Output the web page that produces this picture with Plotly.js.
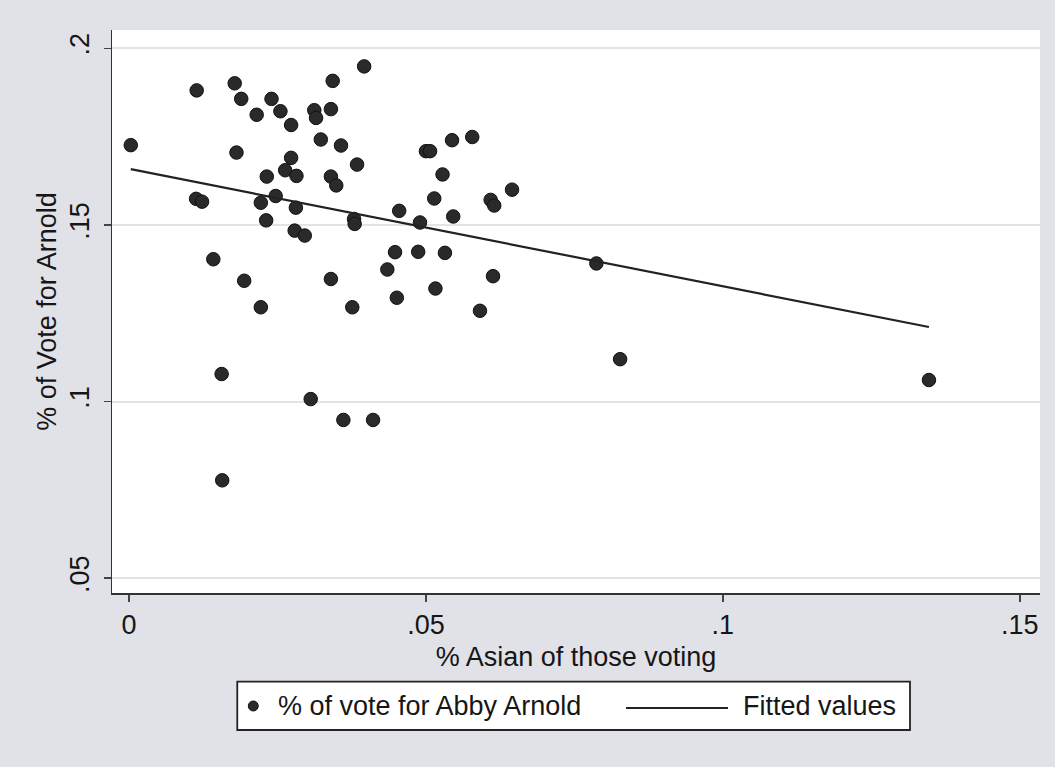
<!DOCTYPE html>
<html>
<head>
<meta charset="utf-8">
<script src="https://cdn.plot.ly/plotly-3.0.1.min.js"></script>
<style>
  html, body { margin: 0; padding: 0; background: #e1e1e8; }
  #chart { width: 1055px; height: 767px; }
</style>
</head>
<body>
<div id="chart"></div>
<script>
// % Asian of those voting (x) for each precinct
const asianShare = [
  0.0003, 0.0114, 0.0113, 0.0123, 0.0142, 0.0156, 0.0157, 0.0178, 0.0189, 0.0181,
  0.0194, 0.0215, 0.0222, 0.0222, 0.0231, 0.0232, 0.0240, 0.0247, 0.0255, 0.0263,
  0.0273, 0.0273, 0.0282, 0.0281, 0.0279, 0.0296, 0.0306, 0.0312, 0.0315, 0.0323,
  0.0340, 0.0343, 0.0340, 0.0349, 0.0340, 0.0357, 0.0361, 0.0376, 0.0379, 0.0380,
  0.0384, 0.0396, 0.0411, 0.0435, 0.0451, 0.0448, 0.0455, 0.0487, 0.0490, 0.0500,
  0.0507, 0.0516, 0.0514, 0.0528, 0.0532, 0.0544, 0.0546, 0.0578, 0.0591, 0.0609,
  0.0615, 0.0613, 0.0645, 0.0787, 0.0827, 0.1347
];
// % of vote for Abby Arnold (y)
const arnoldShare = [
  0.1726, 0.1881, 0.1574, 0.1566, 0.1403, 0.1078, 0.0777, 0.1901, 0.1857, 0.1705,
  0.1342, 0.1812, 0.1267, 0.1563, 0.1513, 0.1637, 0.1857, 0.1582, 0.1822, 0.1655,
  0.1690, 0.1783, 0.1639, 0.1549, 0.1484, 0.1470, 0.1007, 0.1825, 0.1803, 0.1742,
  0.1828, 0.1908, 0.1637, 0.1612, 0.1347, 0.1725, 0.0948, 0.1267, 0.1517, 0.1503,
  0.1671, 0.1949, 0.0948, 0.1374, 0.1294, 0.1423, 0.1540, 0.1424, 0.1507, 0.1709,
  0.1709, 0.1320, 0.1575, 0.1643, 0.1421, 0.1740, 0.1524, 0.1749, 0.1257, 0.1571,
  0.1555, 0.1355, 0.1600, 0.1391, 0.1120, 0.1061
];
// Fitted values line (endpoints)
const fittedX = [0.0003, 0.1347];
const fittedY = [0.1658, 0.1211];

const xTickVals = [0, 0.05, 0.1, 0.15];
const xTickText = ['0', '.05', '.1', '.15'];
const yTickVals = [0.05, 0.1, 0.15, 0.2];
const yTickText = ['.05', '.1', '.15', '.2'];

const seriesName = '% of vote for Abby Arnold';
const fitName = 'Fitted values';
const xTitle = '% Asian of those voting';
const yTitle = '% of Vote for Arnold';

const FONT = 'Liberation Sans, Arial, Helvetica, sans-serif';
const INK = '#161616';
const FS = 27;

const traces = [
  {
    type: 'scatter', mode: 'markers',
    x: asianShare, y: arnoldShare,
    name: seriesName,
    marker: { size: 13.5, color: '#2a2a2a', line: { color: '#111', width: 1 } },
    hoverinfo: 'x+y'
  },
  {
    type: 'scatter', mode: 'lines',
    x: fittedX, y: fittedY,
    name: fitName,
    line: { color: '#222', width: 2.2 }
  }
];

// Legend box (Stata style), placed in paper coordinates below the plot
const legendShapes = [
  { type: 'rect', xref: 'paper', yref: 'paper',
    x0: 0.1350, x1: 0.8599, y0: -0.2433, y1: -0.1575,
    fillcolor: '#ffffff', line: { color: '#222', width: 1.8 }, layer: 'above' },
  { type: 'circle', xref: 'paper', yref: 'paper',
    x0: 0.1469, x1: 0.1576, y0: -0.2096, y1: -0.1918,
    fillcolor: '#2a2a2a', line: { color: '#111', width: 1 }, layer: 'above' },
  { type: 'line', xref: 'paper', yref: 'paper',
    x0: 0.5539, x1: 0.6638, y0: -0.2043, y1: -0.2043,
    line: { color: '#222', width: 2.2 }, layer: 'above' }
];
const legendTexts = [
  { xref: 'paper', yref: 'paper', x: 0.1770, y: -0.2007,
    xanchor: 'left', yanchor: 'middle', showarrow: false,
    text: seriesName, font: { family: FONT, size: FS, color: INK } },
  { xref: 'paper', yref: 'paper', x: 0.6780, y: -0.2007,
    xanchor: 'left', yanchor: 'middle', showarrow: false,
    text: fitName, font: { family: FONT, size: FS, color: INK } }
];

const layout = {
  width: 1055, height: 767,
  paper_bgcolor: '#e1e1e8',
  plot_bgcolor: '#ffffff',
  font: { family: FONT, color: INK, size: FS },
  margin: { l: 112, r: 15, t: 30, b: 174 },
  showlegend: false,
  shapes: legendShapes,
  annotations: legendTexts,
  xaxis: {
    range: [-0.00286, 0.1534],
    tickvals: xTickVals, ticktext: xTickText,
    ticks: 'outside', ticklen: 7, tickwidth: 1.5, tickcolor: '#444',
    showline: true, linecolor: '#333', linewidth: 1.5,
    showgrid: false, zeroline: false,
    tickfont: { size: FS },
    title: { text: xTitle, standoff: 8, font: { size: FS } }
  },
  yaxis: {
    range: [0.0458, 0.2052],
    tickvals: yTickVals, ticktext: yTickText,
    tickangle: -90,
    ticks: 'outside', ticklen: 7, tickwidth: 1.5, tickcolor: '#444',
    ticklabelstandoff: 4,
    showline: true, linecolor: '#333', linewidth: 1.5,
    showgrid: true, gridcolor: '#e4e4e8', gridwidth: 2,
    zeroline: false,
    tickfont: { size: FS },
    title: { text: yTitle, standoff: 0, font: { size: FS } }
  }
};

Plotly.newPlot('chart', traces, layout, { displayModeBar: false, staticPlot: true });
</script>
</body>
</html>
